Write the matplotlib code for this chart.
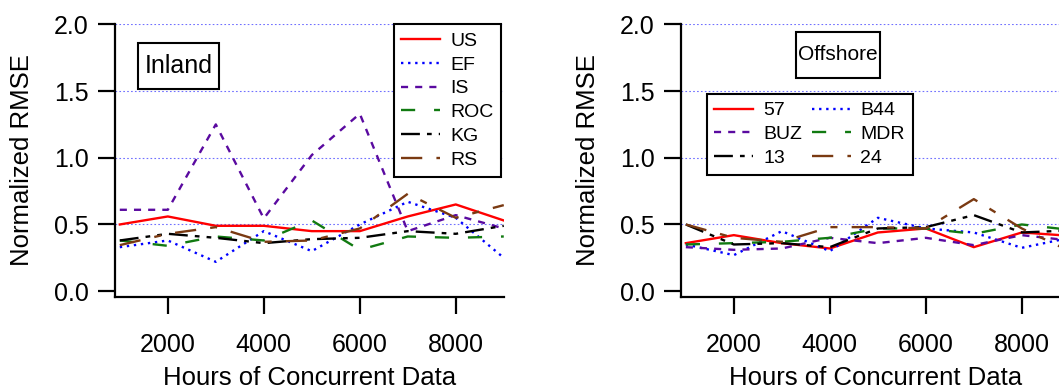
import matplotlib
matplotlib.use("Agg")
import matplotlib.pyplot as plt
from matplotlib.patches import Rectangle

plt.rcParams["font.family"] = ["Liberation Sans", "DejaVu Sans"]

# hours of concurrent data
hours = [1000, 2000, 3000, 4000, 5000, 6000, 7000, 8000, 9000]

# Inland sites
us = [0.50, 0.56, 0.49, 0.49, 0.45, 0.45, 0.56, 0.65, 0.53]
ef = [0.33, 0.38, 0.22, 0.45, 0.30, 0.50, 0.67, 0.55, 0.25]
is_ = [0.61, 0.61, 1.25, 0.545, 1.02, 1.33, 0.45, 0.57, 0.47]
roc = [0.38, 0.34, 0.41, 0.38, 0.53, 0.31, 0.41, 0.40, 0.41]
kg = [0.38, 0.43, 0.40, 0.36, 0.39, 0.40, 0.45, 0.43, 0.49]
rs = [0.345, 0.43, 0.48, 0.37, 0.38, 0.47, 0.73, 0.55, 0.645]

# Offshore sites
s57 = [0.36, 0.42, 0.36, 0.32, 0.44, 0.47, 0.33, 0.44, 0.415]
b44 = [0.35, 0.27, 0.45, 0.30, 0.55, 0.47, 0.44, 0.325, 0.40]
buz = [0.33, 0.31, 0.32, 0.40, 0.36, 0.40, 0.345, 0.42, 0.38]
mdr = [0.35, 0.36, 0.37, 0.40, 0.47, 0.47, 0.43, 0.50, 0.46]
s13 = [0.50, 0.35, 0.36, 0.33, 0.47, 0.48, 0.57, 0.44, 0.455]
s24 = [0.50, 0.40, 0.37, 0.48, 0.48, 0.47, 0.69, 0.47, 0.30]

# one style per slot, shared by both panels
styles = [
    dict(color="#ff0000", linestyle="-"),
    dict(color="#0000ff", linestyle=(0, (1, 2))),
    dict(color="#5a0aa0", linestyle=(0, (3, 3))),
    dict(color="#117a11", linestyle=(0, (6, 8))),
    dict(color="black", linestyle=(0, (8, 3, 2, 3, 2, 3))),
    dict(color="#7a3a12", linestyle=(0, (9, 6, 3, 6))),
]


def style_axes(ax):
    ax.set_xlim(900, 9000)
    ax.set_ylim(-0.04, 2.0)
    ax.set_xticks([2000, 4000, 6000, 8000])
    ax.set_yticks([0.0, 0.5, 1.0, 1.5, 2.0])
    ax.set_yticklabels(["0.0", "0.5", "1.0", "1.5", "2.0"])
    for side in ["top", "right"]:
        ax.spines[side].set_visible(False)
    for side in ["left", "bottom"]:
        ax.spines[side].set_linewidth(1.6)
    ax.tick_params(direction="out", length=12, width=1.6, labelsize=18)
    ax.tick_params(axis="x", pad=14)
    ax.tick_params(axis="y", pad=7)
    ax.yaxis.grid(True, linestyle=(0, (1.5, 2)), color="#7070ff", linewidth=0.8)
    ax.get_ygridlines()[0].set_visible(False)
    ax.set_axisbelow(True)
    ax.set_xlabel("Hours of Concurrent Data", fontsize=18.5, labelpad=7)
    ax.set_ylabel("Normalized RMSE", fontsize=18.5, labelpad=14)


def label_box(ax, x0, y0, x1, y1, text, size):
    ax.add_patch(Rectangle((x0, y0), x1 - x0, y1 - y0, transform=ax.transAxes,
                           facecolor="white", edgecolor="black", linewidth=1.5, zorder=4))
    ax.text((x0 + x1) / 2, (y0 + y1) / 2, text, transform=ax.transAxes,
            ha="center", va="center", fontsize=size, zorder=5)


fig = plt.figure(figsize=(10.59, 3.9), dpi=100)
ax1 = fig.add_axes([0.1086, 0.2397, 0.3671, 0.6979])
ax2 = fig.add_axes([0.6431, 0.2397, 0.3671, 0.6979])

inland = [("US", us), ("EF", ef), ("IS", is_), ("ROC", roc), ("KG", kg), ("RS", rs)]
for (name, vals), st in zip(inland, styles):
    ax1.plot(hours, vals, label=name, linewidth=1.7, **st)

offshore = [("57", s57), ("B44", b44), ("BUZ", buz), ("MDR", mdr), ("13", s13), ("24", s24)]
lines2 = {}
for (name, vals), st in zip(offshore, styles):
    (ln,) = ax2.plot(hours, vals, label=name, linewidth=1.7, **st)
    lines2[name] = ln

for ax in (ax1, ax2):
    style_axes(ax)

leg1 = ax1.legend(loc="upper right", bbox_to_anchor=(0.993, 1.0), borderaxespad=0,
                  fontsize=14, labelspacing=0.32, handletextpad=0.5, fancybox=False,
                  framealpha=1, edgecolor="black")
leg1.get_frame().set_linewidth(1.5)

order = ["57", "BUZ", "13", "B44", "MDR", "24"]
leg2 = ax2.legend([lines2[k] for k in order], order, ncol=2, loc="upper left",
                  bbox_to_anchor=(0.066, 0.744), borderaxespad=0, fontsize=14,
                  labelspacing=0.32, handletextpad=0.5, columnspacing=0.5,
                  fancybox=False, framealpha=1, edgecolor="black")
leg2.get_frame().set_linewidth(1.5)

label_box(ax1, 0.058, 0.761, 0.268, 0.930, "Inland", 18)
label_box(ax2, 0.296, 0.803, 0.512, 0.972, "Offshore", 15)

fig.savefig("out.png", dpi=100)
